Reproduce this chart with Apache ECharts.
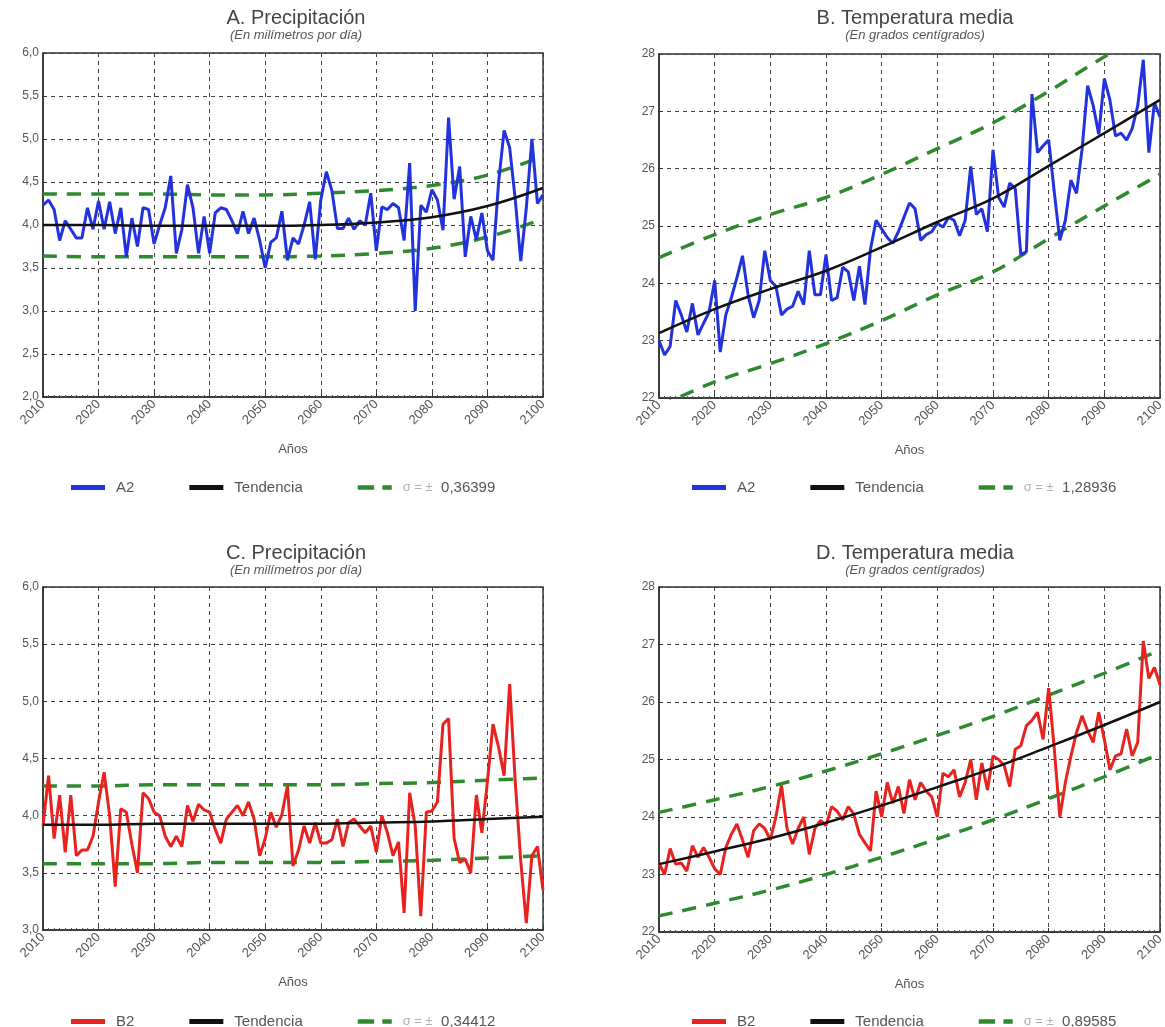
<!DOCTYPE html>
<html>
<head>
<meta charset="utf-8">
<script src="https://cdn.jsdelivr.net/npm/echarts@6/dist/echarts.min.js"></script>
<style>
html,body{margin:0;padding:0;background:#fff;}
#chart{width:1165px;height:1027px;}
</style>
</head>
<body>
<div id="chart"></div>
<script>
// ---- Data ----
const years = [];
for (let y = 2010; y <= 2100; y++) years.push(y);
const decadeYears = [2010, 2020, 2030, 2040, 2050, 2060, 2070, 2080, 2090, 2100];

// A. Precipitación, scenario A2 (mm/day)
const precipA2 = [
  4.23, 4.29, 4.18, 3.82, 4.05, 3.95, 3.85, 3.85, 4.20, 3.95,
  4.28, 3.95, 4.27, 3.90, 4.20, 3.63, 4.08, 3.75, 4.20, 4.18,
  3.78, 4.00, 4.20, 4.57, 3.67, 3.95, 4.47, 4.20, 3.67, 4.10,
  3.67, 4.14, 4.20, 4.18, 4.05, 3.90, 4.16, 3.90, 4.08, 3.82,
  3.50, 3.80, 3.85, 4.16, 3.59, 3.85, 3.78, 4.00, 4.27, 3.60,
  4.29, 4.62, 4.40, 3.96, 3.96, 4.08, 3.95, 4.05, 4.00, 4.37,
  3.70, 4.21, 4.18, 4.25, 4.20, 3.82, 4.72, 3.00, 4.23, 4.15,
  4.41, 4.29, 3.94, 5.25, 4.30, 4.68, 3.63, 4.10, 3.83, 4.14,
  3.70, 3.59, 4.49, 5.10, 4.90, 4.30, 3.58, 4.20, 5.00, 4.25,
  4.35
];
const precipA2Trend = [4.00, 4.00, 3.99, 3.99, 3.99, 4.00, 4.03, 4.09, 4.22, 4.43];
const precipA2Upper = [4.36, 4.36, 4.36, 4.35, 4.35, 4.37, 4.40, 4.46, 4.58, 4.80];
const precipA2Lower = [3.64, 3.63, 3.63, 3.63, 3.63, 3.64, 3.67, 3.73, 3.86, 4.07];

// B. Temperatura media, scenario A2 (°C)
const tempA2 = [
  23.00, 22.75, 22.90, 23.70, 23.45, 23.15, 23.65, 23.10, 23.30, 23.50,
  24.05, 22.80, 23.45, 23.75, 24.10, 24.48, 23.80, 23.40, 23.70, 24.57,
  24.05, 23.95, 23.45, 23.55, 23.60, 23.86, 23.63, 24.57, 23.80, 23.80,
  24.50, 23.70, 23.75, 24.28, 24.20, 23.70, 24.30, 23.63, 24.60, 25.10,
  24.95, 24.80, 24.70, 24.90, 25.15, 25.40, 25.30, 24.75, 24.85, 24.90,
  25.05, 24.98, 25.15, 25.10, 24.83, 25.10, 26.04, 25.20, 25.30, 24.90,
  26.33, 25.50, 25.33, 25.75, 25.65, 24.50, 24.55, 27.30, 26.28, 26.40,
  26.50, 25.60, 24.75, 25.10, 25.80, 25.57, 26.34, 27.45, 27.10, 26.60,
  27.57, 27.20, 26.57, 26.62, 26.50, 26.70, 27.10, 27.90, 26.28, 27.15,
  26.90
];
const tempA2Trend = [23.13, 23.55, 23.90, 24.22, 24.63, 25.07, 25.48, 26.05, 26.62, 27.20];
const tempA2Upper = [24.45, 24.85, 25.20, 25.50, 25.90, 26.35, 26.80, 27.35, 27.95, 28.50];
const tempA2Lower = [21.85, 22.28, 22.60, 22.95, 23.35, 23.80, 24.20, 24.78, 25.35, 25.90];

// C. Precipitación, scenario B2 (mm/day)
const precipB2 = [
  3.91, 4.35, 3.80, 4.18, 3.68, 4.18, 3.65, 3.70, 3.70, 3.82,
  4.12, 4.38, 4.00, 3.38, 4.06, 4.03, 3.75, 3.50, 4.20, 4.15,
  4.03, 4.00, 3.82, 3.73, 3.82, 3.73, 4.09, 3.95, 4.10, 4.05,
  4.03, 3.88, 3.76, 3.97, 4.03, 4.09, 4.00, 4.12, 3.97, 3.65,
  3.80, 4.03, 3.90, 4.01, 4.26, 3.56, 3.70, 3.91, 3.76, 3.94,
  3.76, 3.76, 3.79, 3.97, 3.73, 3.94, 3.97, 3.91, 3.85, 3.91,
  3.68, 4.00, 3.85, 3.65, 3.77, 3.15, 4.20, 3.91, 3.12, 4.03,
  4.04, 4.12, 4.80, 4.85, 3.80, 3.59, 3.62, 3.50, 4.18, 3.85,
  4.30, 4.80, 4.60, 4.35, 5.15, 4.30, 3.60, 3.06, 3.65, 3.73,
  3.35
];
const precipB2Trend = [3.92, 3.92, 3.93, 3.93, 3.93, 3.93, 3.94, 3.95, 3.97, 3.99];
const precipB2Upper = [4.26, 4.26, 4.27, 4.27, 4.27, 4.27, 4.28, 4.29, 4.31, 4.33];
const precipB2Lower = [3.58, 3.58, 3.58, 3.59, 3.59, 3.59, 3.60, 3.61, 3.63, 3.65];

// D. Temperatura media, scenario B2 (°C)
const tempB2 = [
  23.20, 23.00, 23.45, 23.18, 23.20, 23.06, 23.50, 23.30, 23.47, 23.30,
  23.10, 23.00, 23.47, 23.70, 23.88, 23.60, 23.30, 23.76, 23.88, 23.80,
  23.60, 24.00, 24.55, 23.80, 23.53, 23.80, 24.00, 23.35, 23.80, 23.94,
  23.85, 24.18, 24.10, 23.95, 24.18, 24.05, 23.70, 23.55, 23.41, 24.45,
  24.00, 24.60, 24.24, 24.53, 24.06, 24.65, 24.30, 24.60, 24.45, 24.35,
  24.00, 24.76, 24.70, 24.82, 24.35, 24.60, 25.00, 24.30, 24.94, 24.47,
  25.06, 25.00, 24.90, 24.53, 25.18, 25.24, 25.59, 25.68, 25.82, 25.35,
  26.24, 25.20, 24.00, 24.60, 25.06, 25.47, 25.76, 25.50, 25.30, 25.82,
  25.35, 24.82, 25.06, 25.10, 25.53, 25.06, 25.30, 27.06, 26.41, 26.60,
  26.30
];
const tempB2Trend = [23.18, 23.40, 23.63, 23.90, 24.20, 24.52, 24.85, 25.22, 25.60, 26.00];
const tempB2Upper = [24.08, 24.30, 24.53, 24.80, 25.10, 25.42, 25.75, 26.12, 26.50, 26.90];
const tempB2Lower = [22.28, 22.50, 22.73, 23.00, 23.30, 23.62, 23.95, 24.32, 24.70, 25.10];

// Axis ticks
const xTicks = { min: 2010, max: 2100, interval: 10 };
const precipTicksTop = { min: 2.0, max: 6.0, interval: 0.5 };
const precipTicksBottom = { min: 3.0, max: 6.0, interval: 0.5 };
const tempTicks = { min: 22, max: 28, interval: 1 };

const titles = ['A. Precipitación', 'B. Temperatura media', 'C. Precipitación', 'D. Temperatura media'];
const subtitles = ['(En milímetros por día)', '(En grados centígrados)', '(En milímetros por día)', '(En grados centígrados)'];
const sigmaLabels = ['σ = ± 0,36399', 'σ = ± 1,28936', 'σ = ± 0,34412', 'σ = ± 0,89585'];
const scenarioNames = ['A2', 'A2', 'B2', 'B2'];
const trendName = 'Tendencia';
const xName = 'Años';

// ---- Styling / layout ----
const FONT = 'Liberation Sans, Arial, sans-serif';
const BLUE = '#2233dd', RED = '#e8231f', BLACK = '#111111', GREEN = '#2f8a2f';
const grids = [
  { left: 43, top: 53, width: 500, height: 344 },
  { left: 659, top: 54, width: 501, height: 344 },
  { left: 43, top: 587, width: 500, height: 343 },
  { left: 659, top: 587, width: 501, height: 345 }
];
const legendPos = [
  { left: 66, top: 475 }, { left: 687, top: 475 },
  { left: 66, top: 1009 }, { left: 687, top: 1009 }
];
const titlePos = [
  { left: 291, top: 3 }, { left: 910, top: 3 },
  { left: 291, top: 538 }, { left: 910, top: 538 }
];

const panels = [
  { data: precipA2, trend: precipA2Trend, up: precipA2Upper, lo: precipA2Lower, y: precipTicksTop, color: BLUE, fmt: v => v.toFixed(1).replace('.', ',') },
  { data: tempA2, trend: tempA2Trend, up: tempA2Upper, lo: tempA2Lower, y: tempTicks, color: BLUE, fmt: v => String(v) },
  { data: precipB2, trend: precipB2Trend, up: precipB2Upper, lo: precipB2Lower, y: precipTicksBottom, color: RED, fmt: v => v.toFixed(1).replace('.', ',') },
  { data: tempB2, trend: tempB2Trend, up: tempB2Upper, lo: tempB2Lower, y: tempTicks, color: RED, fmt: v => String(v) }
];

const option = {
  backgroundColor: '#ffffff',
  animation: false,
  textStyle: { fontFamily: FONT },
  title: [], grid: [], xAxis: [], yAxis: [], legend: [], series: []
};

const dashIcon = 'path://M0,0H14V4H0Z M21,0H29V4H21Z';

panels.forEach((p, i) => {
  option.title.push({
    text: titles[i], subtext: subtitles[i],
    left: titlePos[i].left, top: titlePos[i].top, textAlign: 'center', itemGap: 1,
    textStyle: { fontSize: 20, fontWeight: 'normal', color: '#444', fontFamily: FONT },
    subtextStyle: { fontSize: 13, fontStyle: 'italic', color: '#555', fontFamily: FONT }
  });
  option.grid.push(Object.assign({
    show: true, borderColor: '#333', borderWidth: 1.5, backgroundColor: '#fff',
    containLabel: false, outerBoundsMode: 'none'
  }, grids[i]));
  option.xAxis.push({
    type: 'value', gridIndex: i,
    min: xTicks.min, max: xTicks.max, interval: xTicks.interval,
    name: xName, nameLocation: 'middle', nameGap: 46,
    nameTextStyle: { fontSize: 13, color: '#555', fontFamily: FONT },
    axisLine: { show: true, lineStyle: { color: '#333', width: 1.5 } },
    axisTick: { show: true, inside: true, length: 4, lineStyle: { color: '#333' } },
    minorTick: { show: true, splitNumber: 10, length: 2, lineStyle: { color: '#555' } },
    axisLabel: { rotate: 45, fontSize: 13, color: '#555', margin: 5, showMinLabel: true, showMaxLabel: true,
                 formatter: v => String(v) },
    splitLine: { show: true, lineStyle: { color: '#444', type: [4, 4], width: 1 } }
  });
  option.yAxis.push({
    type: 'value', gridIndex: i,
    min: p.y.min, max: p.y.max, interval: p.y.interval,
    axisLine: { show: true, lineStyle: { color: '#333', width: 1.5 } },
    axisTick: { show: true, inside: true, length: 4, lineStyle: { color: '#333' } },
    axisLabel: { fontSize: 12, color: '#555', margin: 4, formatter: p.fmt },
    splitLine: { show: true, lineStyle: { color: '#444', type: [4, 4], width: 1 } }
  });
  const scen = scenarioNames[i];
  const sig = sigmaLabels[i];
  option.legend.push({
    left: legendPos[i].left, top: legendPos[i].top,
    itemWidth: 34, itemHeight: 5, itemGap: 55, selectedMode: false,
    data: [
      { name: scen, icon: 'rect', itemStyle: { color: p.color } },
      { name: trendName, icon: 'rect', itemStyle: { color: BLACK } },
      { name: sig, icon: dashIcon, itemStyle: { color: GREEN } }
    ],
    formatter: name => name.startsWith('σ') ? '{s|σ = ±}  ' + name.replace('σ = ± ', '') : name,
    textStyle: { fontSize: 15, color: '#555', fontFamily: FONT, padding: [0, 0, 0, 6],
                 rich: { s: { fontSize: 13, color: '#b0b0b0' } } }
  });
  const pair = arr => decadeYears.map((y, k) => [y, arr[k]]);
  option.series.push({
    name: scen, type: 'line', xAxisIndex: i, yAxisIndex: i,
    data: years.map((y, k) => [y, p.data[k]]),
    showSymbol: false, lineStyle: { color: p.color, width: 3 }, itemStyle: { color: p.color }, z: 3
  });
  option.series.push({
    name: trendName, type: 'line', xAxisIndex: i, yAxisIndex: i,
    data: pair(p.trend), smooth: 0.4,
    showSymbol: false, lineStyle: { color: BLACK, width: 2.5 }, itemStyle: { color: BLACK }, z: 4
  });
  [p.up, p.lo].forEach(arr => {
    option.series.push({
      name: sig, type: 'line', xAxisIndex: i, yAxisIndex: i,
      data: pair(arr), smooth: 0.4, clip: true,
      showSymbol: false, lineStyle: { color: GREEN, width: 3.5, type: [14, 10] }, itemStyle: { color: GREEN }, z: 2
    });
  });
});

const chart = echarts.init(document.getElementById('chart'), null, { renderer: 'canvas' });
chart.setOption(option);
</script>
</body>
</html>
